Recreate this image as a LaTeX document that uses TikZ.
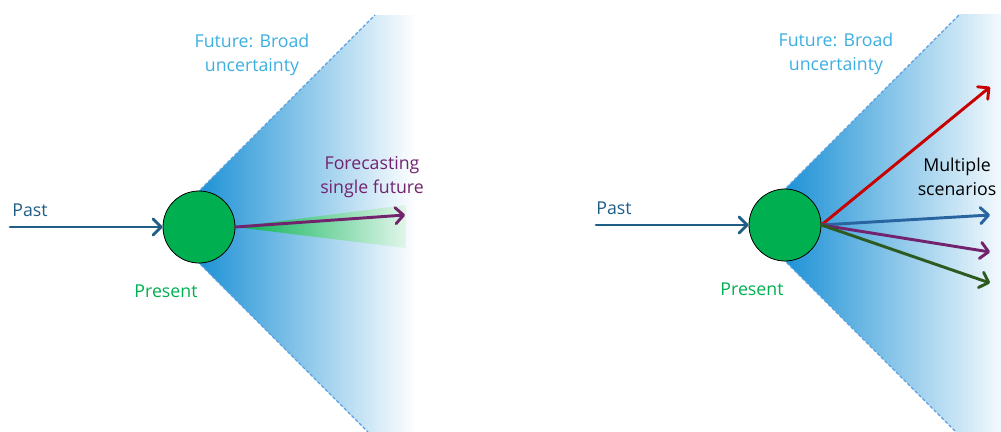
\documentclass[tikz,border=0pt]{standalone}
\usepackage{fontspec}
\setmainfont{Open Sans}
\usetikzlibrary{arrows.meta,positioning}
\definecolor{pastblue}{RGB}{31,94,135}
\definecolor{coneblue}{RGB}{22,142,212}
\definecolor{rimblue}{RGB}{90,160,225}
\definecolor{futureblue}{RGB}{60,175,225}
\definecolor{nowgreen}{RGB}{0,176,80}
\definecolor{fcpurple}{RGB}{115,35,110}
\definecolor{scred}{RGB}{200,0,0}
\definecolor{scblue}{RGB}{40,100,160}
\definecolor{scgreen}{RGB}{45,90,30}
\begin{document}
\begin{tikzpicture}[x=0.75pt, y=-0.75pt,
    txt/.style={font=\fontsize{13.3}{18.5}\selectfont, align=center, inner sep=0pt},
    present/.style={circle, draw=black, line width=0.6pt, fill=nowgreen, minimum size=54pt, inner sep=0pt},
    flow/.style={line width=2.2pt, line cap=round, -{Straight Barb[length=6pt,width=12pt,line cap=round,line join=round]}},
    rim/.style={draw=rimblue, line width=0.9pt, dash pattern=on 2.5pt off 1.5pt}]

    \useasboundingbox (0,0) rectangle (1001,432);

    % left: forecasting one future
    \begin{scope}
        \clip (163,227) -- (375,15) -- (430,15) -- (430,432) -- (368,432) -- cycle;
        \foreach \k in {0,...,75} {
            \pgfmathsetmacro\pct{100*(1-\k/75)}
            \fill[coneblue!\pct!white] (190+3*\k,0) rectangle (193.6+3*\k,432);
        }
    \end{scope}
    \draw[rim] (163,227) -- (375,15);
    \draw[rim] (163,227) -- (368,432);
    \shade[left color=nowgreen, right color=nowgreen!12]
        (235,227) -- (406,205) -- (406,248) -- cycle;

    \node[present] (nowL) at (199,227) {};
    \coordinate (pastL) at (10,227);
    \coordinate (fcend) at (405,215);

    \draw[flow, pastblue] (pastL) -- (nowL);
    \draw[flow, fcpurple] (nowL.east) -- (fcend);

    \node[txt, pastblue] (pastLlbl) at (30,210) {Past};
    \node[txt, nowgreen] (nowLlbl) at (166,291) {Present};
    \node[txt, futureblue] (futLlbl) at (252,55) {Future: Broad\\uncertainty};
    \node[txt, fcpurple] (fclbl) at (372,177) {Forecasting\\single future};

    % right: several scenarios
    \begin{scope}
        \clip (749,225) -- (960,14) -- (1001,14) -- (1001,432) -- (956,432) -- cycle;
        \foreach \k in {0,...,75} {
            \pgfmathsetmacro\pct{100-95*\k/75}
            \fill[coneblue!\pct!white] (776+3*\k,0) rectangle (779.6+3*\k,432);
        }
    \end{scope}
    \draw[rim] (749,225) -- (960,14);
    \draw[rim] (749,225) -- (956,432);

    \node[present] (nowR) at (785,225) {};
    \coordinate (pastR) at (596,225);
    \coordinate (sc1) at (990,87);
    \coordinate (sc2) at (990,215);
    \coordinate (sc3) at (990,252);
    \coordinate (sc4) at (990,283);

    \draw[flow, pastblue] (pastR) -- (nowR);
    \draw[flow, scred] (nowR.east) -- (sc1);
    \draw[flow, scblue] (nowR.east) -- (sc2);
    \draw[flow, fcpurple] (nowR.east) -- (sc3);
    \draw[flow, scgreen] (nowR.east) -- (sc4);

    \node[txt, pastblue] (pastRlbl) at (614,208) {Past};
    \node[txt, nowgreen] (nowRlbl) at (752,289) {Present};
    \node[txt, futureblue] (futRlbl) at (836,54) {Future: Broad\\uncertainty};
    \node[txt, black] (sclbl) at (957,177) {Multiple\\scenarios};

\end{tikzpicture}
\end{document}
